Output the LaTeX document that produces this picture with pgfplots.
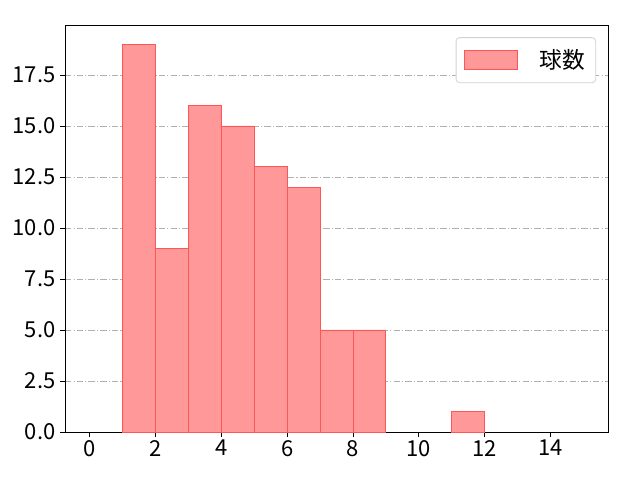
\documentclass[border=0pt]{standalone}
\usepackage{pgfplots}
\pgfplotsset{compat=1.18}
\usepackage{fontspec}
\setmainfont{Noto Sans CJK JP}
\definecolor{barfill}{RGB}{255,153,153}
\definecolor{baredge}{RGB}{255,85,85}
\definecolor{gridgray}{RGB}{176,176,176}

\begin{document}
\begin{tikzpicture}
% whole figure: 640x480 px at 0.75 pt per px
\path[use as bounding box] (-48.75pt,-36pt) rectangle (431.25pt,324pt);
\begin{axis}[
	at={(0,0)}, anchor=south west,
	scale only axis,
	width=407.25pt, height=305.25pt,
	xmin=-0.75, xmax=15.75,
	ymin=0, ymax=19.95,
	xtick={0,2,...,14},
	ytick={0,2.5,5,7.5,10,12.5,15,17.5},
	yticklabel style={/pgf/number format/.cd, fixed, fixed zerofill, precision=1},
	/pgf/number format/assume math mode=true,
	tick label style={font=\fontsize{16.5pt}{19pt}\selectfont},
	xticklabel style={yshift=1pt},
	tick align=outside, tick pos=left,
	major tick length=3.6pt,
	every tick/.style={black, line width=0.6pt},
	axis line style={line width=0.6pt},
	ymajorgrids,
	grid style={gridgray, line width=0.6pt, dash pattern=on 4.8pt off 1.6pt on 0.8pt off 1.6pt},
	legend style={at={(0.978,0.970)}, anchor=north east,
		draw=gray!35, rounded corners=2.5pt, line width=0.6pt,
		font=\fontsize{17pt}{20pt}\selectfont,
		inner xsep=6pt, inner ysep=7pt},
	legend cell align=left,
	legend image code/.code={
		\draw[#1, sharp corners] (0cm,-0.25cm) rectangle (1.4cm,0.25cm);
	},
]
\addplot[ybar interval, fill=barfill, draw=baredge, line width=0.6pt]
coordinates {
(1,19)
(2,9)
(3,16)
(4,15)
(5,13)
(6,12)
(7,5)
(8,5)
(9,5)
};
\addlegendentry{\hspace{0.5cm}球数}
\addplot[ybar interval, fill=barfill, draw=baredge, line width=0.6pt, forget plot]
coordinates {
(11,1)
(12,1)
};
\end{axis}
\end{tikzpicture}
\end{document}
